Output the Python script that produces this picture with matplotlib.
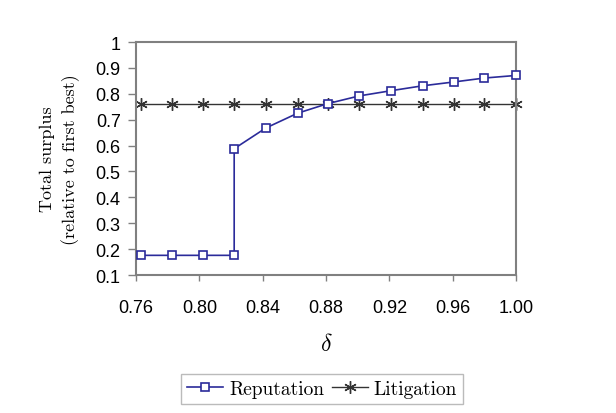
import numpy as np
import matplotlib
matplotlib.use("Agg")
import matplotlib.pyplot as plt

# delta grid
delta = [0.763, 0.783, 0.802, 0.822, 0.842, 0.862, 0.881, 0.901,
         0.921, 0.941, 0.961, 0.980, 1.000]
# reputation has a jump at 0.822 (two points at the same delta)
rep_x = [0.763, 0.783, 0.802, 0.822, 0.822, 0.842, 0.862, 0.881,
         0.901, 0.921, 0.941, 0.961, 0.980, 1.000]
rep_y = [0.176, 0.176, 0.176, 0.176, 0.588, 0.668, 0.725, 0.762,
         0.792, 0.812, 0.831, 0.846, 0.861, 0.871]
lit_y = [0.762] * len(delta)

xticks = [0.76, 0.80, 0.84, 0.88, 0.92, 0.96, 1.00]
yticks = [0.1, 0.2, 0.3, 0.4, 0.5, 0.6, 0.7, 0.8, 0.9, 1.0]
ytick_labels = ["0.1", "0.2", "0.3", "0.4", "0.5", "0.6", "0.7", "0.8", "0.9", "1"]

plt.rcParams["mathtext.fontset"] = "cm"

fig = plt.figure(figsize=[6.16, 4.14], dpi=100)
ax = fig.add_axes([0.2208, 0.3333, 0.6169, 0.5627])

ax.plot(rep_x, rep_y, color="#2b2b9a", lw=1.2, marker="s", ms=5.5,
        mfc="white", mec="#2b2b9a", mew=1.2, label="Reputation",
        clip_on=False, zorder=3)
ax.plot(delta, lit_y, color="#333333", lw=1.0, marker=(6, 2, 0), ms=9,
        mec="#333333", mew=1.0, label="Litigation", clip_on=False, zorder=2)

ax.set_xlim(0.76, 1.00)
ax.set_ylim(0.1, 1.0)
ax.set_xticks(xticks)
ax.set_xticklabels([f"{t:.2f}" for t in xticks], fontsize=13,
                   family="Liberation Sans")
ax.set_yticks(yticks)
ax.set_yticklabels(ytick_labels, fontsize=13, family="Liberation Sans")
ax.tick_params(axis="x", length=4, width=1, color="#808080", pad=13)
ax.tick_params(axis="y", length=6, width=1, color="#808080", pad=5)
for s in ax.spines.values():
    s.set_color("#808080")
    s.set_linewidth(1.5)

ax.set_xlabel(r"$\delta$", fontsize=17, labelpad=11)
ax.set_ylabel("Total surplus\n(relative to first best)", family="cmr10",
              fontsize=13, labelpad=11, linespacing=1.45)

leg = fig.legend(loc="center", bbox_to_anchor=(0.523, 0.058), ncol=2,
                 prop={"family": "cmr10", "size": 14}, frameon=True,
                 fancybox=False, edgecolor="#aaaaaa", handlelength=1.85,
                 handletextpad=0.3, columnspacing=0.4, borderpad=0.3)
leg.get_frame().set_linewidth(1.0)

fig.savefig("out.png", dpi=100)
plt.close(fig)
